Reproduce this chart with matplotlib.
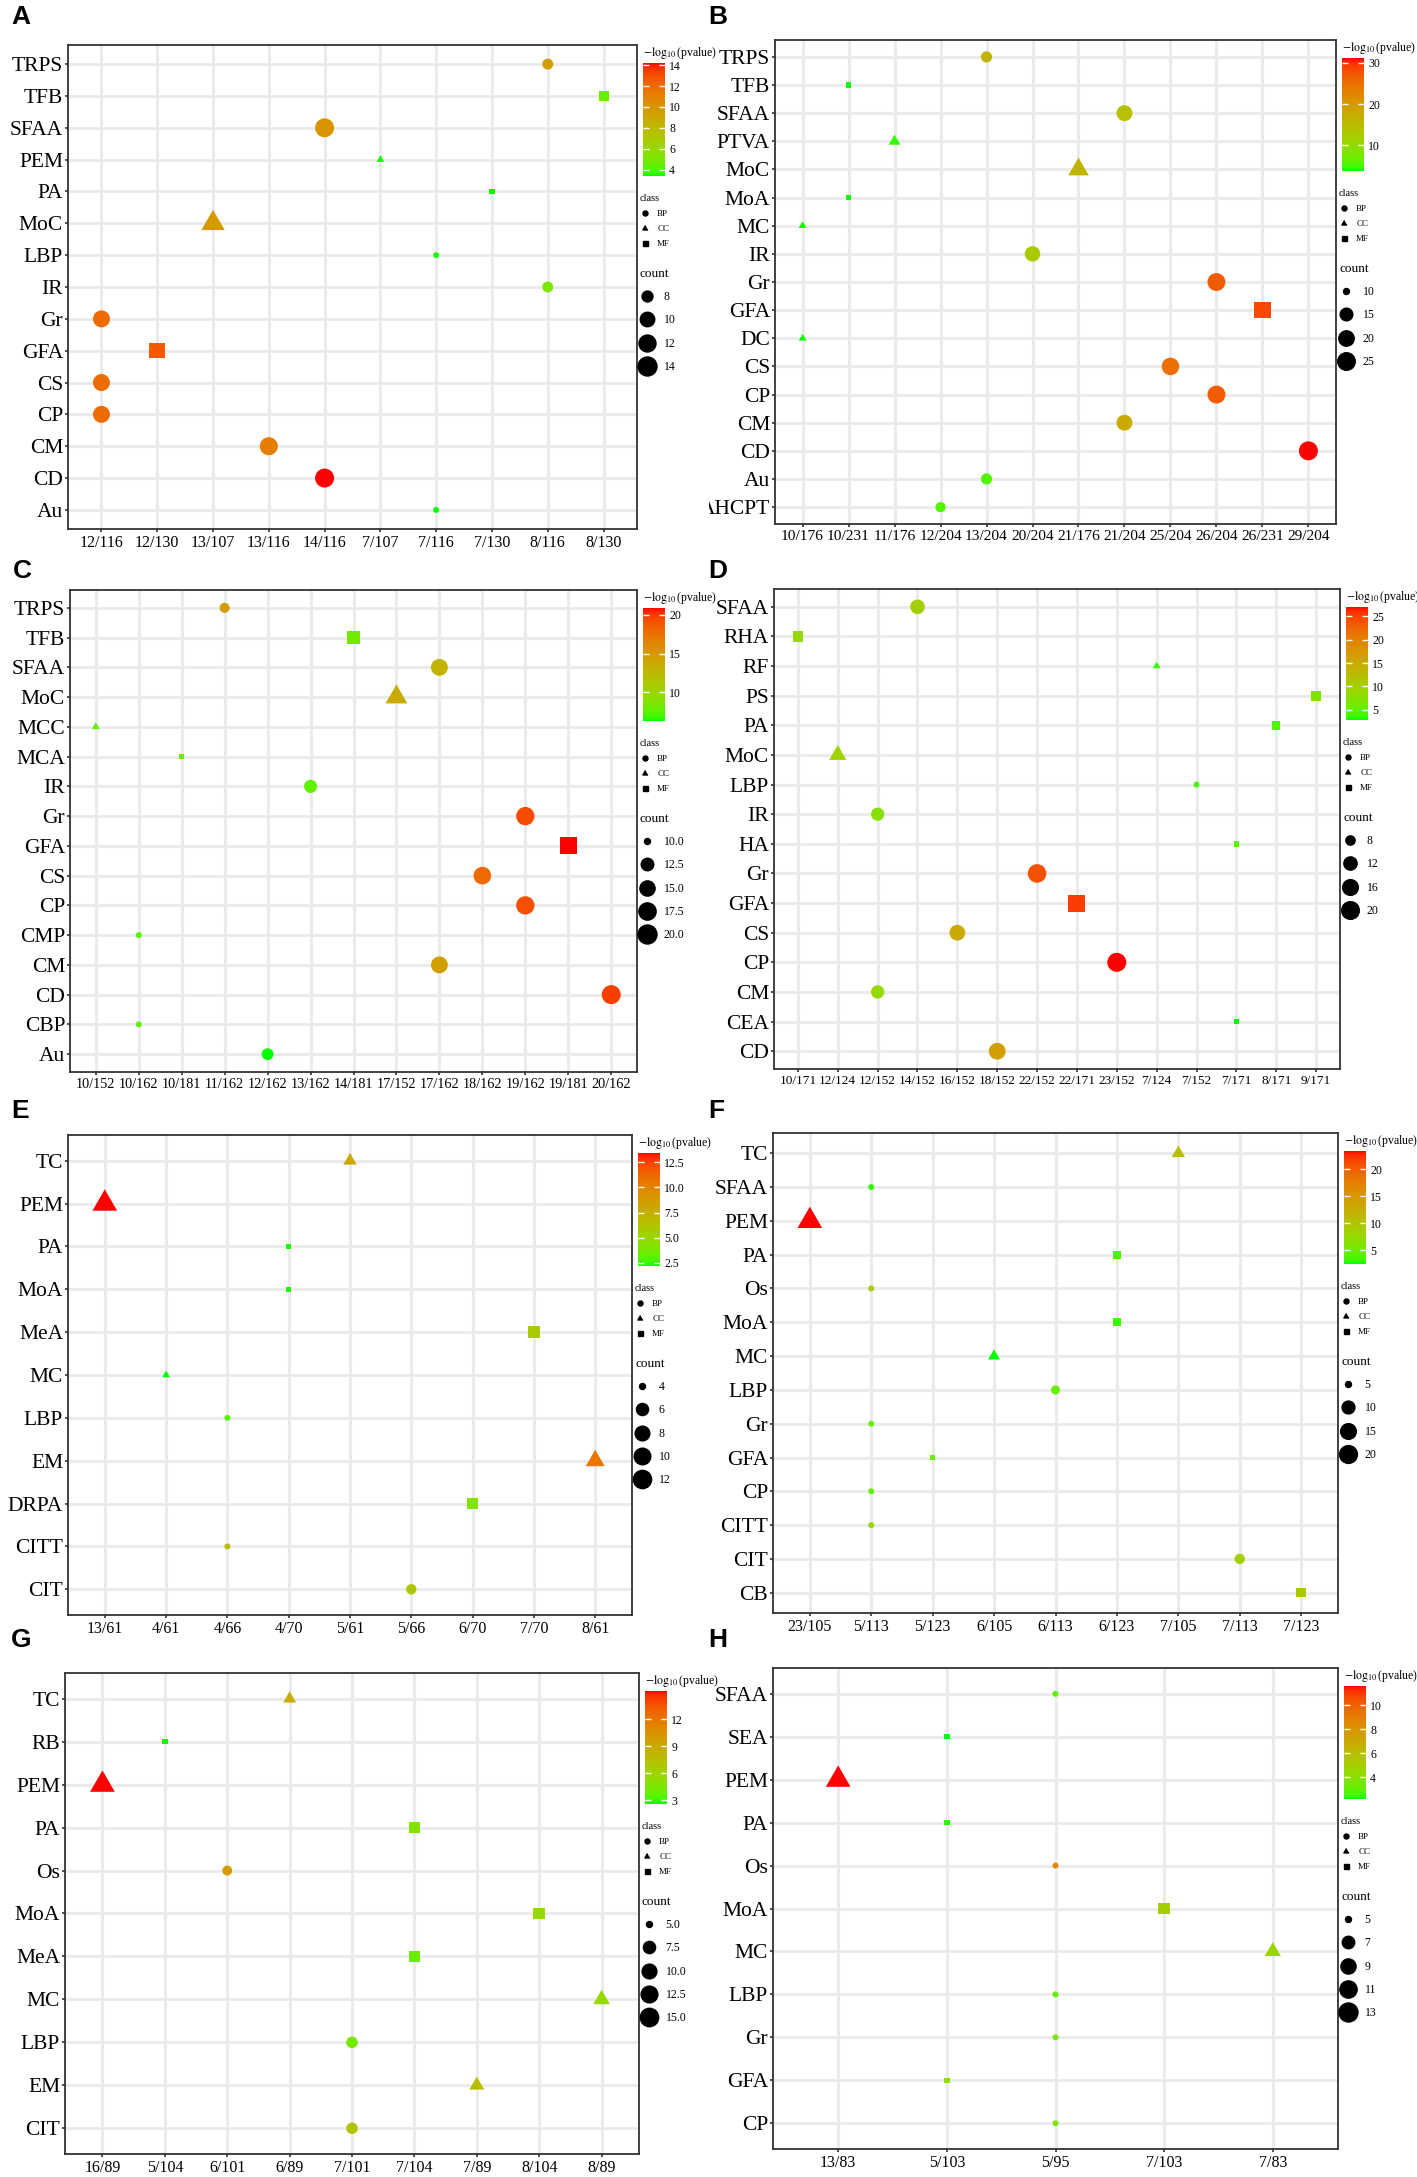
import numpy as np
import matplotlib
matplotlib.use("Agg")
import matplotlib.pyplot as plt
from matplotlib.cm import ScalarMappable
from matplotlib.colors import LinearSegmentedColormap, Normalize
from matplotlib.lines import Line2D
from matplotlib.transforms import Bbox, TransformedBbox

plt.rcParams["font.family"] = ["Liberation Serif", "DejaVu Serif"]
plt.rcParams["mathtext.fontset"] = "stix"

# ---- data (term, GeneRatio, GO class, -log10 p) per panel ----
a_terms = ["TRPS", "TFB", "SFAA", "PEM", "PA", "MoC", "LBP", "IR", "Gr", "GFA", "CS", "CP", "CM", "CD", "Au"]
a_ratio = ["8/116", "8/130", "14/116", "7/107", "7/130", "13/107", "7/116", "8/116", "12/116", "12/130",
           "12/116", "12/116", "13/116", "14/116", "7/116"]
a_class = ["BP", "MF", "BP", "CC", "MF", "CC", "BP", "BP", "BP", "MF", "BP", "BP", "BP", "BP", "BP"]
a_logp = [9.6, 4.5, 10.0, 3.5, 3.4, 9.8, 3.5, 5.0, 12.0, 12.6, 12.0, 12.0, 11.2, 14.2, 3.4]
a_cbar_ticks = [4, 6, 8, 10, 12, 14]
a_count_breaks = [8, 10, 12, 14]

b_terms = ["TRPS", "TFB", "SFAA", "PTVA", "MoC", "MoA", "MC", "IR", "Gr", "GFA", "DC", "CS", "CP", "CM",
           "CD", "Au", "AHCPT"]
b_ratio = ["13/204", "10/231", "21/204", "11/176", "21/176", "10/231", "10/176", "20/204", "26/204", "26/231",
           "10/176", "25/204", "26/204", "21/204", "29/204", "13/204", "12/204"]
b_class = ["BP", "MF", "BP", "CC", "CC", "MF", "CC", "BP", "BP", "MF", "CC", "BP", "BP", "BP", "BP", "BP", "BP"]
b_logp = [16.0, 4.0, 14.5, 4.5, 16.0, 4.0, 3.8, 12.8, 27.0, 28.5, 3.8, 25.0, 27.0, 17.5, 31.2, 5.5, 5.5]
b_cbar_ticks = [10, 20, 30]
b_count_breaks = [10, 15, 20, 25]

c_terms = ["TRPS", "TFB", "SFAA", "MoC", "MCC", "MCA", "IR", "Gr", "GFA", "CS", "CP", "CMP", "CM", "CD",
           "CBP", "Au"]
c_ratio = ["11/162", "14/181", "17/162", "17/152", "10/152", "10/181", "13/162", "19/162", "19/181", "18/162",
           "19/162", "10/162", "17/162", "20/162", "10/162", "12/162"]
c_class = ["BP", "MF", "BP", "CC", "CC", "MF", "BP", "BP", "MF", "BP", "BP", "BP", "BP", "BP", "BP", "BP"]
c_logp = [14.5, 8.2, 13.0, 13.6, 7.6, 8.0, 7.6, 19.4, 20.9, 18.0, 19.2, 7.4, 14.5, 19.8, 7.8, 6.3]
c_cbar_ticks = [10, 15, 20]
c_count_breaks = [10.0, 12.5, 15.0, 17.5, 20.0]

d_terms = ["SFAA", "RHA", "RF", "PS", "PA", "MoC", "LBP", "IR", "HA", "Gr", "GFA", "CS", "CP", "CM", "CEA", "CD"]
d_ratio = ["14/152", "10/171", "7/124", "9/171", "8/171", "12/124", "7/152", "12/152", "7/171", "22/152",
           "22/171", "16/152", "23/152", "12/152", "7/171", "18/152"]
d_class = ["BP", "MF", "CC", "MF", "MF", "CC", "BP", "BP", "MF", "BP", "MF", "BP", "BP", "BP", "MF", "BP"]
d_logp = [10.0, 8.6, 3.4, 6.8, 4.2, 9.5, 4.0, 7.5, 4.6, 24.0, 25.3, 15.0, 27.0, 8.5, 2.8, 16.5]
d_cbar_ticks = [5, 10, 15, 20, 25]
d_count_breaks = [8, 12, 16, 20]

e_terms = ["TC", "PEM", "PA", "MoA", "MeA", "MC", "LBP", "EM", "DRPA", "CITT", "CIT"]
e_ratio = ["5/61", "13/61", "4/70", "4/70", "7/70", "4/61", "4/66", "8/61", "6/70", "4/66", "5/66"]
e_class = ["CC", "CC", "MF", "MF", "MF", "CC", "BP", "CC", "MF", "BP", "BP"]
e_logp = [8.0, 13.4, 2.3, 2.3, 5.8, 2.2, 3.0, 10.6, 4.2, 6.9, 6.1]
e_cbar_ticks = [2.5, 5.0, 7.5, 10.0, 12.5]
e_count_breaks = [4, 6, 8, 10, 12]

f_terms = ["TC", "SFAA", "PEM", "PA", "Os", "MoA", "MC", "LBP", "Gr", "GFA", "CP", "CITT", "CIT", "CB"]
f_ratio = ["7/105", "5/113", "23/105", "6/123", "5/113", "6/123", "6/105", "6/113", "5/113", "5/123", "5/113",
           "5/113", "7/113", "7/123"]
f_class = ["CC", "BP", "CC", "MF", "BP", "MF", "CC", "BP", "BP", "MF", "BP", "BP", "BP", "MF"]
f_logp = [10.5, 3.0, 23.4, 3.5, 8.5, 3.2, 2.4, 4.5, 4.5, 4.5, 4.5, 7.5, 8.5, 9.5]
f_cbar_ticks = [5, 10, 15, 20]
f_count_breaks = [5, 10, 15, 20]

g_terms = ["TC", "RB", "PEM", "PA", "Os", "MoA", "MeA", "MC", "LBP", "EM", "CIT"]
g_ratio = ["6/89", "5/104", "16/89", "7/104", "6/101", "8/104", "7/104", "8/89", "7/101", "7/89", "7/101"]
g_class = ["CC", "MF", "CC", "MF", "BP", "MF", "MF", "CC", "BP", "CC", "BP"]
g_logp = [8.8, 2.6, 15.1, 4.8, 9.8, 5.6, 4.0, 5.6, 4.4, 7.6, 7.2]
g_cbar_ticks = [3, 6, 9, 12]
g_count_breaks = [5.0, 7.5, 10.0, 12.5, 15.0]

h_terms = ["SFAA", "SEA", "PEM", "PA", "Os", "MoA", "MC", "LBP", "Gr", "GFA", "CP"]
h_ratio = ["5/95", "5/103", "13/83", "5/103", "5/95", "7/103", "7/83", "5/95", "5/95", "5/103", "5/95"]
h_class = ["BP", "MF", "CC", "MF", "BP", "MF", "CC", "BP", "BP", "MF", "BP"]
h_logp = [3.0, 2.2, 11.6, 2.4, 8.6, 5.0, 4.7, 3.2, 3.8, 4.2, 3.8]
h_cbar_ticks = [4, 6, 8, 10]
h_count_breaks = [5, 7, 9, 11, 13]

FW, FH = 1417, 2177
TRI = [(0.0, 1.0), (-0.866, -0.5), (0.866, -0.5)]
SHAPES = {"BP": "o", "CC": TRI, "MF": "s"}
SHAPE_SCALE = {"BP": 1.0, "CC": 1.5, "MF": 0.92}


def _srgb_to_lab(rgb):
    c = np.asarray(rgb, float)
    lin = np.where(c <= 0.04045, c / 12.92, ((c + 0.055) / 1.055) ** 2.4)
    m = np.array([[0.4124564, 0.3575761, 0.1804375],
                  [0.2126729, 0.7151522, 0.0721750],
                  [0.0193339, 0.1191920, 0.9503041]])
    xyz = m @ lin / np.array([0.95047, 1.0, 1.08883])
    f = np.where(xyz > (6 / 29) ** 3, np.cbrt(xyz), xyz / (3 * (6 / 29) ** 2) + 4 / 29)
    return np.array([116 * f[1] - 16, 500 * (f[0] - f[1]), 200 * (f[1] - f[2])])


def _lab_to_srgb(lab):
    fy = (lab[0] + 16) / 116
    f = np.array([fy + lab[1] / 500, fy, fy - lab[2] / 200])
    xyz = np.where(f > 6 / 29, f ** 3, 3 * (6 / 29) ** 2 * (f - 4 / 29)) * np.array([0.95047, 1.0, 1.08883])
    minv = np.linalg.inv(np.array([[0.4124564, 0.3575761, 0.1804375],
                                   [0.2126729, 0.7151522, 0.0721750],
                                   [0.0193339, 0.1191920, 0.9503041]]))
    lin = np.clip(minv @ xyz, 0, 1)
    return np.where(lin <= 0.0031308, 12.92 * lin, 1.055 * lin ** (1 / 2.4) - 0.055).clip(0, 1)


# green -> red gradient interpolated in Lab, like ggplot's scale_colour_gradient
_lo, _hi = _srgb_to_lab([0, 1, 0]), _srgb_to_lab([1, 0, 0])
CMAP = LinearSegmentedColormap.from_list(
    "green_red", [_lab_to_srgb(_lo + t * (_hi - _lo)) for t in np.linspace(0, 1, 64)])


def px_rect(l, t, r, b):
    return [l / FW, 1 - b / FH, (r - l) / FW, (b - t) / FH]


def diam_px(c, cmin, cmax):
    frac = np.clip((np.asarray(c, float) - cmin) / (cmax - cmin), 0, 1)
    return 6 + 13 * np.sqrt(frac)


def fmt_ticks(vals):
    if all(float(v).is_integer() for v in vals):
        return [f"{int(v)}" for v in vals]
    return [f"{v:.1f}" for v in vals]


def draw_panel(fig, letter, box, letter_xy, terms, ratio, klass, logp, cbar_ticks, count_breaks):
    l, t, r, b = box
    ax = fig.add_axes(px_rect(l, t, r, b))

    ylev = sorted(set(terms))
    xlev = sorted(set(ratio))
    xi = np.array([xlev.index(s) for s in ratio])
    yi = np.array([ylev.index(s) for s in terms])
    counts = np.array([int(s.split("/")[0]) for s in ratio])
    cmin, cmax = counts.min(), counts.max()
    logp = np.asarray(logp)
    klass = np.asarray(klass)
    norm = Normalize(logp.min(), logp.max())

    for cls in ("BP", "CC", "MF"):
        m = klass == cls
        if not m.any():
            continue
        d_pt = diam_px(counts[m], cmin, cmax) * SHAPE_SCALE[cls] * 0.72
        ax.scatter(xi[m], yi[m], s=d_pt ** 2, c=logp[m], cmap=CMAP, norm=norm,
                   marker=SHAPES[cls], linewidths=0, zorder=3)

    ax.set_xlim(-0.6, len(xlev) - 0.4)
    ax.set_ylim(-0.6, len(ylev) - 0.4)
    ax.set_xticks(range(len(xlev)), xlev)
    ax.set_yticks(range(len(ylev)), ylev)
    # shrink the ratio labels when the categories are packed tightly
    step_px = (r - l) / (len(xlev) + 0.2)
    xsize = min(11.5, step_px / 3.0 * 0.72)
    ax.tick_params(axis="y", labelsize=15.5, length=2.5, width=1.2, color="#333333", pad=1)
    ax.tick_params(axis="x", labelsize=xsize, length=2.5, width=1.2, color="#333333", pad=2)
    ax.grid(True, color="#EBEBEB", linewidth=2.2)
    ax.set_axisbelow(True)
    for sp in ax.spines.values():
        sp.set_color("#333333")
        sp.set_linewidth(1.3)

    # term labels are cut at the panel's left edge, as in the source figure
    x0 = 0 if l < FW / 2 else FW / 2
    clip = TransformedBbox(Bbox.from_extents(x0 / FW, 0, 1, 1), fig.transFigure)
    for lbl in ax.get_yticklabels():
        lbl.set_clip_box(clip)
        lbl.set_clip_on(True)

    # colourbar
    cl, ct = r + 6, t + 18
    cax = fig.add_axes(px_rect(cl, ct, cl + 22, ct + 113))
    cb = fig.colorbar(ScalarMappable(norm=norm, cmap=CMAP), cax=cax)
    cb.outline.set_visible(False)
    cb.set_ticks(cbar_ticks, labels=fmt_ticks(cbar_ticks))
    cax.tick_params(axis="y", direction="in", length=4, width=1, color="white",
                    left=True, right=True, labelsize=8.5, pad=3)
    cax.set_title(r"$-\log_{10}$(pvalue)", loc="left", fontsize=8.5, pad=5)

    # shape legend
    cls_handles = [Line2D([], [], marker=SHAPES[k], linestyle="none", color="black",
                         markersize=3.6 * (1.2 if k == "CC" else 1.0)) for k in ("BP", "CC", "MF")]
    fig.legend(cls_handles, ["BP", "CC", "MF"], title="class", loc="upper left",
               bbox_to_anchor=((cl - 3) / FW, 1 - (ct + 131) / FH), frameon=False,
               fontsize=6.5, title_fontsize=7.5, alignment="left", borderpad=0, borderaxespad=0,
               handlelength=1.0, handletextpad=0.9, labelspacing=0.75)

    # size legend
    size_handles = [Line2D([], [], marker="o", linestyle="none", color="black",
                           markersize=float(diam_px(v, cmin, cmax)) * 0.72) for v in count_breaks]
    fig.legend(size_handles, fmt_ticks(count_breaks), title="count", loc="upper left",
               bbox_to_anchor=((cl - 3) / FW, 1 - (ct + 205) / FH), frameon=False,
               fontsize=8.5, title_fontsize=9.5, alignment="left", borderpad=0, borderaxespad=0,
               handlelength=1.2, handletextpad=0.8, labelspacing=0.95)

    fig.text(letter_xy[0] / FW, 1 - letter_xy[1] / FH, letter, ha="left", va="top",
             fontsize=19, fontweight="bold", family=["Liberation Sans", "DejaVu Sans"])
    return ax


fig = plt.figure(figsize=(FW / 100, FH / 100), dpi=100)

draw_panel(fig, "A", (68, 45, 637, 529), (11, 5), a_terms, a_ratio, a_class, a_logp, a_cbar_ticks, a_count_breaks)
draw_panel(fig, "B", (775, 40, 1336, 524), (708, 5), b_terms, b_ratio, b_class, b_logp, b_cbar_ticks, b_count_breaks)
draw_panel(fig, "C", (70, 590, 637, 1072), (13, 559), c_terms, c_ratio, c_class, c_logp, c_cbar_ticks, c_count_breaks)
draw_panel(fig, "D", (774, 589, 1340, 1069), (708, 559), d_terms, d_ratio, d_class, d_logp, d_cbar_ticks, d_count_breaks)
draw_panel(fig, "E", (68, 1135, 632, 1615), (11, 1099), e_terms, e_ratio, e_class, e_logp, e_cbar_ticks, e_count_breaks)
draw_panel(fig, "F", (773, 1133, 1338, 1613), (708, 1099), f_terms, f_ratio, f_class, f_logp, f_cbar_ticks, f_count_breaks)
draw_panel(fig, "G", (65, 1673, 639, 2154), (11, 1628), g_terms, g_ratio, g_class, g_logp, g_cbar_ticks, g_count_breaks)
draw_panel(fig, "H", (773, 1668, 1338, 2149), (708, 1628), h_terms, h_ratio, h_class, h_logp, h_cbar_ticks, h_count_breaks)

fig.savefig("out.png", dpi=100, facecolor="white")
